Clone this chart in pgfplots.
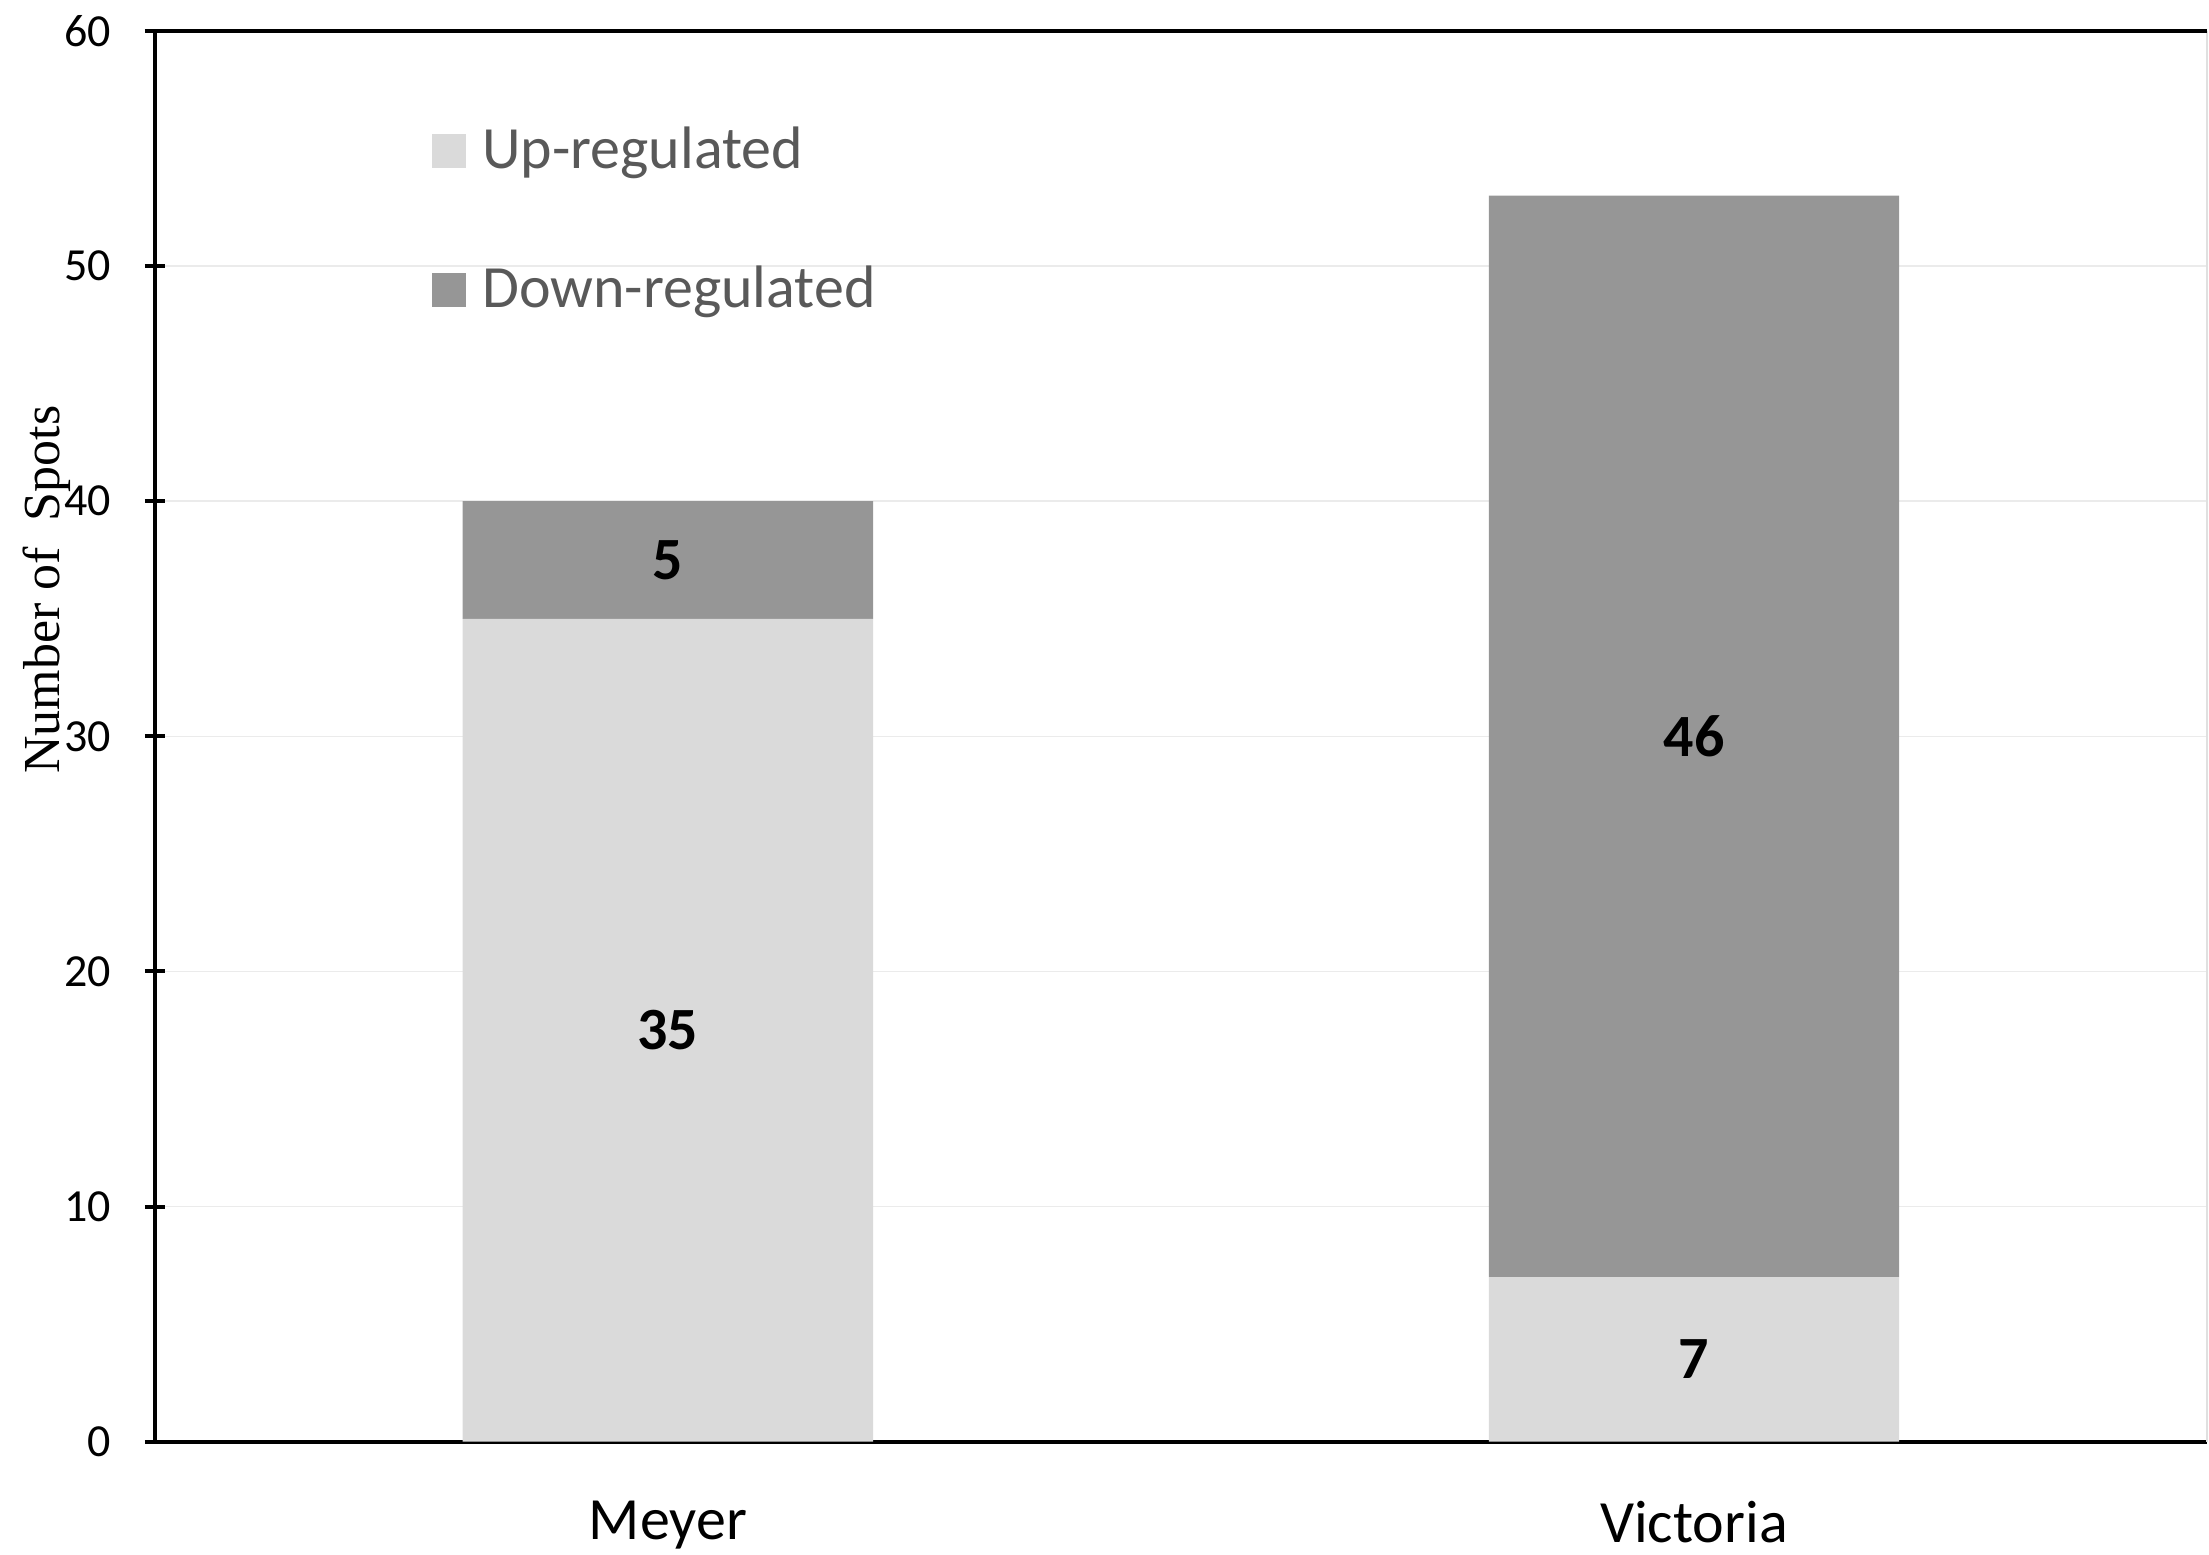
\documentclass[border=0pt]{standalone}
\usepackage{pgfplots}
\pgfplotsset{compat=1.18}
\usepackage{fontspec}
\setmainfont{Carlito}
\newfontfamily\seriffont{Liberation Serif}
\definecolor{upc}{HTML}{DADADA}
\definecolor{downc}{HTML}{969696}
\definecolor{legtext}{HTML}{595959}
\definecolor{gridc}{HTML}{EBEBEB}
\pgfplotsset{
  base/.style={
    scale only axis,
    width=513.5pt, height=353pt,
    xmin=-0.5, xmax=1.5,
    ymin=0, ymax=60,
  }
}
\begin{document}
\begin{tikzpicture}
\begin{axis}[
  base,
  ybar stacked,
  bar width=0.4,
  axis x line*=bottom,
  axis y line*=left,
  axis line style={black, line width=1pt},
  xtick={0,1},
  xticklabels={Meyer,Victoria},
  xtick style={draw=none},
  x tick label style={font=\fontsize{15}{18}\selectfont, inner ysep=1.5pt, yshift=-10.6pt},
  ytick={0,10,20,30,40,50,60},
  ytick style={black, line width=1pt},
  major tick length=5pt,
  tick align=center,
  y tick label style={font=\fontsize{11.5}{14}\selectfont, xshift=-5pt},
  /pgf/number format/assume math mode=true,
  ymajorgrids,
  major grid style={gridc, line width=0.4pt},
  ylabel={\seriffont Number of\ \ Spots},
  every axis y label/.style={at={(rel axis cs:0,0.604)}, xshift=-27pt, rotate=90, anchor=center, font=\fontsize{13}{15}\selectfont},
  legend style={at={(rel axis cs:0.129,0.944)}, anchor=north west, draw=none, fill=none,
    font=\fontsize{15}{18}\selectfont, text=legtext, row sep=19pt, cells={anchor=west},
    /tikz/every odd column/.append style={column sep=2pt}},
  clip=false,
]
\addplot[fill=upc, draw=none, legend image code/.code={\fill[upc] (0pt,-4.25pt) rectangle (8.5pt,4.25pt);}]
  coordinates {(0,35) (1,7)};
\addlegendentry{Up-regulated}
\addplot[fill=downc, draw=none, legend image code/.code={\fill[downc] (0pt,-4.25pt) rectangle (8.5pt,4.25pt);}]
  coordinates {(0,5) (1,46)};
\addlegendentry{Down-regulated}
\draw[black, line width=1pt] ([xshift=-2.5pt]rel axis cs:0,1) -- (rel axis cs:1,1);
\draw[black!12, line width=0.5pt] (rel axis cs:1,0) -- (rel axis cs:1,1);
\path ([xshift=-38.75pt]rel axis cs:0,0.5) ([yshift=7.75pt]rel axis cs:0.5,1);
\end{axis}
\begin{axis}[base, hide axis]
\addplot[draw=none, mark=none, nodes near coords, point meta=explicit symbolic,
  nodes near coords style={font=\bfseries\fontsize{15}{18}\selectfont, anchor=center, black}]
  coordinates {(0,17.5)[35] (0,37.5)[5] (1,3.5)[7] (1,30)[46]};
\end{axis}
\end{tikzpicture}
\end{document}
